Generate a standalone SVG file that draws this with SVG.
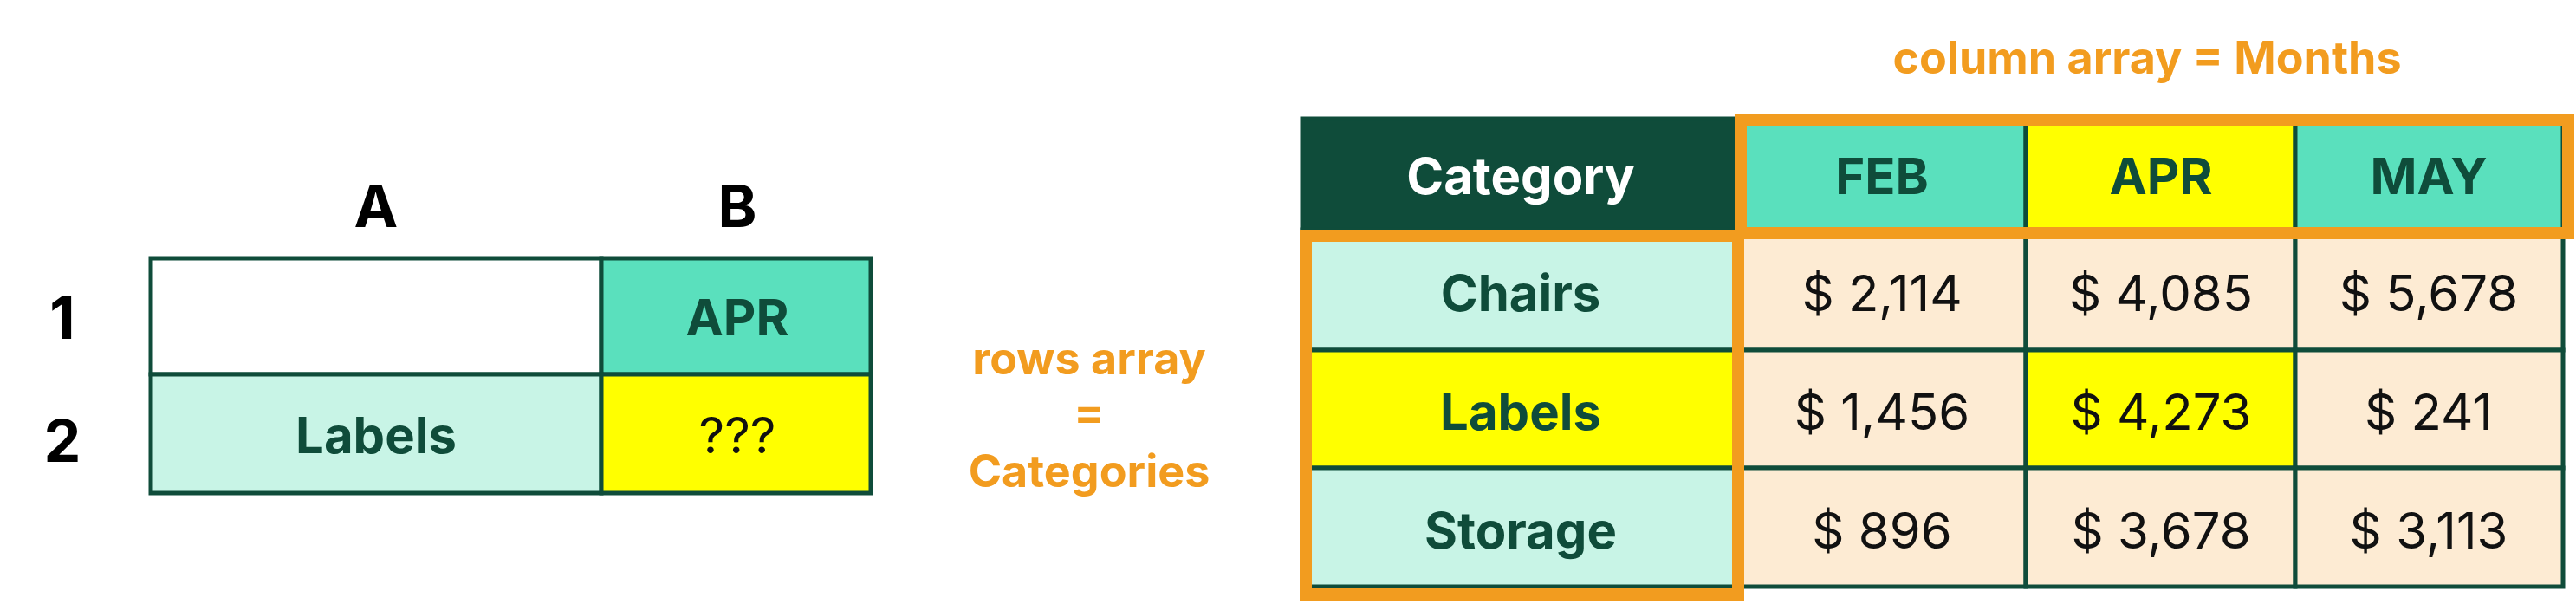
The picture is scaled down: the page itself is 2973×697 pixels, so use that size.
<svg xmlns="http://www.w3.org/2000/svg" width="2973" height="697" viewBox="0 0 2973 697">
<style>
text{font-family:Inter,"Open Sans",sans-serif;text-anchor:middle;dominant-baseline:central}
.b{font-weight:700;fill:#0f4c3a;font-size:58px}
.k{font-weight:700;fill:#000;font-size:68px}
.v{font-weight:400;fill:#111;font-size:58px}
.o{font-weight:700;fill:#f29c1f;font-size:52px}
.c{stroke:#0f4c3a;stroke-width:5}
.or{fill:none;stroke:#f29c1f;stroke-width:14}
</style>
<rect width="2973" height="697" fill="#fff"/>
<g id="left">
<text class="k" x="434" y="237">A</text>
<text class="k" x="851" y="237">B</text>
<text class="k" x="72" y="366">1</text>
<text class="k" x="72" y="508">2</text>
<rect class="c" x="174" y="298" width="520" height="134" fill="#fff"/>
<rect class="c" x="694" y="298" width="311" height="134" fill="#5ae0bd"/>
<rect class="c" x="174" y="432" width="520" height="137" fill="#c8f4e6"/>
<rect class="c" x="694" y="432" width="311" height="137" fill="#ffff00"/>
<text class="b" x="851" y="366">APR</text>
<text class="b" x="434" y="502">Labels</text>
<text class="v" x="851" y="502">???</text>
</g>
<g id="labels">
<text class="o" x="1257" y="413">rows array</text>
<text class="o" x="1257" y="475">=</text>
<text class="o" x="1257" y="543">Categories</text>
<text class="o" x="2478" y="66">column array = Months</text>
</g>
<g id="table">
<rect class="c" x="1503" y="137" width="503" height="128" fill="#0f4c3a"/>
<text class="b" x="1755" y="203" style="fill:#fff">Category</text>
<rect class="c" x="2006" y="137" width="332" height="128" fill="#5ae0bd"/>
<rect class="c" x="2338" y="137" width="311" height="128" fill="#ffff00"/>
<rect class="c" x="2649" y="137" width="309" height="128" fill="#5ae0bd"/>
<text class="b" x="2172" y="203">FEB</text>
<text class="b" x="2494" y="203">APR</text>
<text class="b" x="2803" y="203">MAY</text>
<rect class="c" x="1503" y="265" width="503" height="139" fill="#c8f4e6"/>
<rect class="c" x="1503" y="404" width="503" height="136" fill="#ffff00"/>
<rect class="c" x="1503" y="540" width="503" height="137" fill="#c8f4e6"/>
<text class="b" x="1755" y="338">Chairs</text>
<text class="b" x="1755" y="475">Labels</text>
<text class="b" x="1755" y="612">Storage</text>
<g fill="#fdebd3">
<rect class="c" x="2006" y="265" width="332" height="139"/>
<rect class="c" x="2338" y="265" width="311" height="139"/>
<rect class="c" x="2649" y="265" width="309" height="139"/>
<rect class="c" x="2006" y="404" width="332" height="136"/>
<rect class="c" x="2338" y="404" width="311" height="136" fill="#ffff00"/>
<rect class="c" x="2649" y="404" width="309" height="136"/>
<rect class="c" x="2006" y="540" width="332" height="137"/>
<rect class="c" x="2338" y="540" width="311" height="137"/>
<rect class="c" x="2649" y="540" width="309" height="137"/>
</g>
<text class="v" x="2172" y="338">$ 2,114</text>
<text class="v" x="2494" y="338">$ 4,085</text>
<text class="v" x="2803" y="338">$ 5,678</text>
<text class="v" x="2172" y="475">$ 1,456</text>
<text class="v" x="2494" y="475">$ 4,273</text>
<text class="v" x="2803" y="475">$ 241</text>
<text class="v" x="2172" y="612">$ 896</text>
<text class="v" x="2494" y="612">$ 3,678</text>
<text class="v" x="2803" y="612">$ 3,113</text>
</g>
<g id="highlights">
<rect class="or" x="2009" y="138" width="955" height="131"/>
<rect class="or" x="1507" y="272" width="499" height="414"/>
</g>
</svg>
